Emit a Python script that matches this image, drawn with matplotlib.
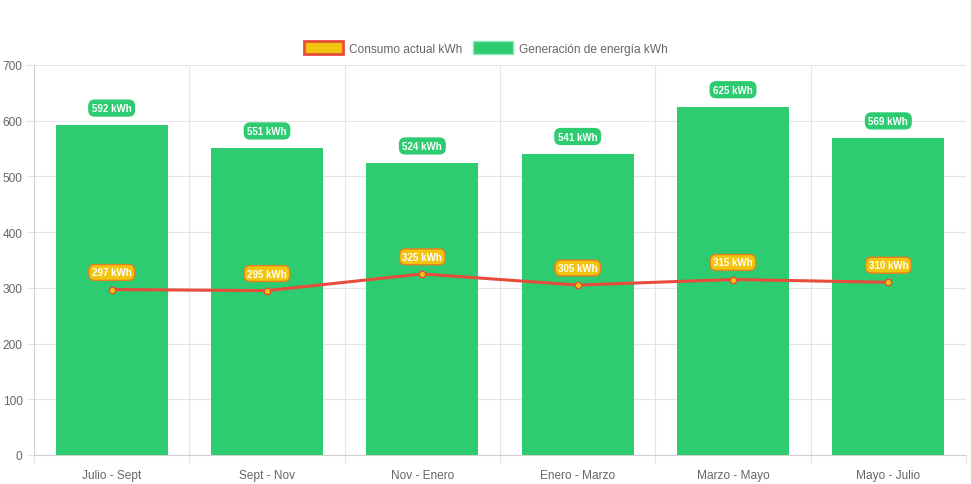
import matplotlib.pyplot as plt
from matplotlib.patches import Patch
import numpy as np

periods = ["Julio - Sept", "Sept - Nov", "Nov - Enero", "Enero - Marzo", "Marzo - Mayo", "Mayo - Julio"]
generation_kwh = [592, 551, 524, 541, 625, 569]
consumption_kwh = [297, 295, 325, 305, 315, 310]

GREEN = "#2ecc71"
YELLOW = "#f1c40f"
RED = "#e74c3c"
ORANGE = "#e67e22"
GRID = "#e5e5e5"
TEXT = "#666666"

plt.rcParams["font.family"] = ["Liberation Sans", "DejaVu Sans"]

fig = plt.figure(figsize=(9.71, 4.85), dpi=100)
ax = fig.add_axes([34 / 971, 1 - 456 / 485, 932 / 971, 390 / 485])

x = np.arange(len(periods))
ax.bar(x, generation_kwh, width=0.72, color=GREEN, zorder=2)
ax.plot(x, consumption_kwh, color=RED, linewidth=2.2, zorder=3)
ax.scatter(x, consumption_kwh, s=22, color=YELLOW, edgecolors=RED, linewidths=1, zorder=4)

# value badges (offset ~17 px above each point)
for xi, v in zip(x, generation_kwh):
    ax.annotate(f"{v} kWh", (xi, v), xytext=(0, 12.3), textcoords="offset points",
                ha="center", va="center", fontsize=7, fontweight="bold", color="white",
                bbox=dict(boxstyle="round,pad=0.3,rounding_size=0.6", fc=GREEN, ec=GREEN, lw=1),
                zorder=5)
for xi, v in zip(x, consumption_kwh):
    ax.annotate(f"{v} kWh", (xi, v), xytext=(0, 12.3), textcoords="offset points",
                ha="center", va="center", fontsize=7, fontweight="bold", color="white",
                bbox=dict(boxstyle="round,pad=0.3,rounding_size=0.6", fc=YELLOW, ec=ORANGE, lw=1),
                zorder=5)

ax.set_xlim(-0.5, len(periods) - 0.5)
ax.set_ylim(0, 700)
ax.set_yticks(range(0, 701, 100))
ax.set_xticks(x)
ax.set_xticklabels(periods)
ax.set_xticks(np.arange(-0.5, len(periods)), minor=True)
ax.grid(False)
ax.grid(True, axis="y", color=GRID, linewidth=0.8, zorder=0)
ax.grid(True, axis="x", which="minor", color=GRID, linewidth=0.8, zorder=0)
ax.tick_params(axis="x", which="major", length=0, pad=10, labelsize=8.6, labelcolor=TEXT)
ax.tick_params(axis="x", which="minor", length=5.8, color=GRID, width=0.8)
ax.tick_params(axis="y", length=5.8, color=GRID, width=0.8, pad=2.5, labelsize=8.6, labelcolor=TEXT)
for side in ["top", "right"]:
    ax.spines[side].set_visible(False)
for side in ["left", "bottom"]:
    ax.spines[side].set_color("#d0d0d0")
    ax.spines[side].set_linewidth(0.8)

handles = [
    Patch(facecolor=YELLOW, edgecolor=RED, linewidth=2, label="Consumo actual kWh"),
    Patch(facecolor=GREEN, edgecolor="#8ee6b3", linewidth=1, label="Generación de energía kWh"),
]
fig.legend(handles=handles, loc="center", bbox_to_anchor=(0.5, 1 - 49 / 485), ncol=2,
           frameon=False, fontsize=8.6, labelcolor=TEXT, handlelength=3.3, handleheight=1.25,
           columnspacing=0.9, handletextpad=0.5)

fig.savefig("out.png", dpi=100)
